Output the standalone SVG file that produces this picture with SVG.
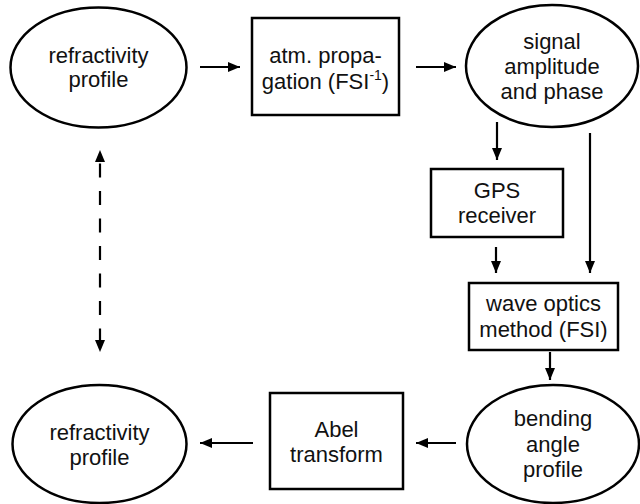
<svg xmlns="http://www.w3.org/2000/svg" width="640" height="504" viewBox="0 0 640 504">
<defs>
<marker id="ah" markerWidth="12" markerHeight="10" refX="12" refY="5" orient="auto" markerUnits="userSpaceOnUse">
<path d="M0,0 L12,5 L0,10 Z" fill="#000"/>
</marker>
<marker id="ahs" markerWidth="12" markerHeight="10" refX="0" refY="5" orient="auto" markerUnits="userSpaceOnUse">
<path d="M12,0 L0,5 L12,10 Z" fill="#000"/>
</marker>
<style>
.shape{fill:#fff;stroke:#000;stroke-width:2.5}
.t{font-family:"Liberation Sans",Arial,sans-serif;font-size:22px;fill:#111;text-anchor:middle}
.c{stroke:#000;stroke-width:2.2;fill:none;marker-end:url(#ah)}
.d{stroke:#000;stroke-width:2.2;fill:none;stroke-dasharray:14 13.5;stroke-dashoffset:14;marker-end:url(#ah);marker-start:url(#ahs)}
</style>
</defs>
<rect width="640" height="504" fill="#fff"/>
<g id="n1">
<ellipse class="shape" cx="98.5" cy="67.5" rx="88" ry="60"/>
<text class="t" x="98.5" y="63">refractivity</text>
<text class="t" x="98.5" y="87">profile</text>
</g>
<g id="n2">
<rect class="shape" x="252" y="18" width="147" height="97"/>
<text class="t" x="325.5" y="63">atm. propa-</text>
<text class="t" x="325.5" y="89">gation (FSI<tspan font-size="14" dy="-9">-1</tspan><tspan dy="9">)</tspan></text>
</g>
<g id="n3">
<ellipse class="shape" cx="552" cy="66" rx="86" ry="61"/>
<text class="t" x="552" y="49">signal</text>
<text class="t" x="552" y="74">amplitude</text>
<text class="t" x="552" y="99">and phase</text>
</g>
<g id="n4">
<rect class="shape" x="431" y="169" width="132" height="68"/>
<text class="t" x="497" y="198">GPS</text>
<text class="t" x="497" y="223">receiver</text>
</g>
<g id="n5">
<rect class="shape" x="469" y="283" width="149" height="67"/>
<text class="t" x="543.5" y="311">wave optics</text>
<text class="t" x="543.5" y="337">method (FSI)</text>
</g>
<g id="n6">
<ellipse class="shape" cx="553" cy="444" rx="86" ry="59"/>
<text class="t" x="553" y="426">bending</text>
<text class="t" x="553" y="452">angle</text>
<text class="t" x="553" y="477">profile</text>
</g>
<g id="n7">
<rect class="shape" x="270" y="393" width="133" height="96"/>
<text class="t" x="336.5" y="437">Abel</text>
<text class="t" x="336.5" y="462">transform</text>
</g>
<g id="n8">
<ellipse class="shape" cx="99.5" cy="444" rx="87" ry="59"/>
<text class="t" x="99.5" y="440">refractivity</text>
<text class="t" x="99.5" y="465">profile</text>
</g>
<g id="connectors">
<line class="c" x1="200" y1="67" x2="240" y2="67"/>
<line class="c" x1="416" y1="67" x2="456" y2="67"/>
<line class="c" x1="497" y1="122" x2="497" y2="160"/>
<line class="c" x1="590" y1="133" x2="590" y2="273"/>
<line class="c" x1="496" y1="247" x2="496" y2="273"/>
<line class="c" x1="550" y1="352" x2="550" y2="380"/>
<line class="c" x1="456" y1="443" x2="416" y2="443"/>
<line class="c" x1="253" y1="443" x2="200" y2="443"/>
<line class="d" x1="100" y1="150" x2="100" y2="352"/>
</g>
</svg>
